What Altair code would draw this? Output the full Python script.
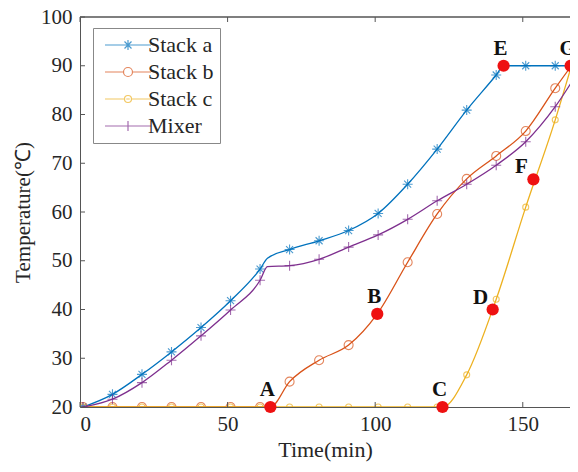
import altair as alt
import pandas as pd

series_names = ["Stack a", "Stack b", "Stack c", "Mixer"]
series_colors = ["#0072BD", "#D95319", "#EDB120", "#7E2F8E"]

a_time = [1, 11, 21, 31, 41, 51, 61, 63.5, 71, 81, 91, 101, 111, 121, 131, 141, 143.5, 151, 161, 166.5]
a_temp = [20, 22.6, 26.7, 31.3, 36.3, 41.8, 48.3, 50.5, 52.3, 54.1, 56.2, 59.7, 65.7, 72.9, 80.9, 88.1, 90, 90, 90, 90]

b_time = [1, 11, 21, 31, 41, 51, 61, 64.5, 71, 81, 91, 100.7, 111, 121, 131, 141, 151, 161, 166.5]
b_temp = [20, 20, 20, 20, 20, 20, 20, 20, 25.2, 29.6, 32.7, 39.1, 49.7, 59.6, 66.8, 71.5, 76.6, 85.4, 90]

c_time = [1, 11, 21, 31, 41, 51, 61, 71, 81, 91, 101, 111, 121, 122.8, 131, 141, 151, 161, 166.5]
c_temp = [20, 20, 20, 20, 20, 20, 20, 20, 20, 20, 20, 20, 20, 20, 26.6, 42.1, 61, 78.9, 90]

m_time = [1, 11, 21, 31, 41, 51, 61, 63.5, 71, 81, 91, 101, 111, 121, 131, 141, 151, 161, 171]
m_temp = [20, 21.6, 25, 29.6, 34.6, 39.9, 46, 48.8, 49, 50.3, 52.8, 55.3, 58.5, 62.3, 65.7, 69.6, 74.4, 81.6, 91]

event_labels = ["A", "B", "C", "D", "E", "F", "G"]
event_time = [64.5, 100.7, 122.8, 139.8, 143.5, 153.6, 166.2]
event_temp = [20, 39.1, 20, 40, 90, 66.7, 90]

x_ticks = [0, 50, 100, 150]
y_ticks = [20, 30, 40, 50, 60, 70, 80, 90, 100]

W, H = 490, 390
FONT = "Times New Roman, Liberation Serif, Times, serif"
TXT = "#262626"
AX = "#555555"

xscale = alt.Scale(domain=[0, 166], nice=False, zero=False)
yscale = alt.Scale(domain=[20, 100], nice=False, zero=False)
xaxis = alt.Axis(values=x_ticks, title="Time(min)", grid=False, ticks=False, domainColor=AX,
                 labelFont=FONT, labelFontSize=21, labelColor=TXT, labelPadding=6,
                 titleFont=FONT, titleFontSize=22, titleFontWeight="normal", titleColor=TXT, titlePadding=5)
yaxis = alt.Axis(values=y_ticks, title="Temperature(℃)", grid=False, ticks=False, domainColor=AX,
                 labelFont=FONT, labelFontSize=21, labelColor=TXT, labelPadding=8,
                 titleFont=FONT, titleFontSize=21, titleFontWeight="normal", titleColor=TXT, titlePadding=7)


def X(f):
    return alt.X(f + ":Q", scale=xscale, axis=xaxis)


def Y(f):
    return alt.Y(f + ":Q", scale=yscale, axis=yaxis)


marker_shapes = {
    "Stack a": ("M-1,0L1,0M0,-1L0,1M-0.7,-0.7L0.7,0.7M-0.7,0.7L0.7,-0.7", 100),
    "Stack b": ("circle", 81),
    "Stack c": ("circle", 36),
    "Mixer": ("M-1,0L1,0M0,-1L0,1", 100),
}

data = {
    "Stack a": (a_time, a_temp),
    "Stack b": (b_time, b_temp),
    "Stack c": (c_time, c_temp),
    "Mixer": (m_time, m_temp),
}

layers = []
for name, col in zip(series_names, series_colors):
    t, v = data[name]
    df = pd.DataFrame({"t": t, "v": v})
    layers.append(
        alt.Chart(df).mark_line(color=col, strokeWidth=1.3, interpolate="monotone", clip=True)
        .encode(x=X("t"), y=Y("v"))
    )
    mdf = df[[abs((x - 1) % 10) < 1e-9 for x in t]]
    shp, sz = marker_shapes[name]
    layers.append(
        alt.Chart(mdf).mark_point(shape=shp, size=sz, filled=False, color=col, strokeWidth=1.1, clip=True)
        .encode(x=X("t"), y=Y("v"))
    )

ev = pd.DataFrame({"label": event_labels, "t": event_time, "v": event_temp})
layers.append(alt.Chart(ev).mark_circle(size=150, color="#ee1111", opacity=1).encode(x=X("t"), y=Y("v")))
above = ev[ev["label"].isin(["A", "B", "C", "E", "G"])]
left = ev[ev["label"].isin(["D", "F"])]
layers.append(alt.Chart(above).mark_text(font=FONT, fontSize=21, fontWeight="bold", color="#111111",
                                         dx=-3, dy=-17).encode(x=X("t"), y=Y("v"), text="label:N"))
layers.append(alt.Chart(left).mark_text(font=FONT, fontSize=21, fontWeight="bold", color="#111111",
                                        dx=-12, dy=-12).encode(x=X("t"), y=Y("v"), text="label:N"))

# inward ticks and top border
xt = pd.DataFrame({"t": x_ticks})
yt = pd.DataFrame({"v": y_ticks})
layers.append(alt.Chart(xt).mark_rule(color=AX, strokeWidth=1).encode(x=X("t"), y=alt.value(H), y2=alt.value(H - 5)))
layers.append(alt.Chart(xt).mark_rule(color=AX, strokeWidth=1).encode(x=X("t"), y=alt.value(0), y2=alt.value(5)))
layers.append(alt.Chart(yt).mark_rule(color=AX, strokeWidth=1).encode(y=Y("v"), x=alt.value(0), x2=alt.value(5)))
layers.append(alt.Chart(yt.head(1)).mark_rule(color=AX, strokeWidth=1.5).encode(x=alt.value(0), x2=alt.value(W), y=alt.value(0)))

# legend
legend_paths = [
    "M-4.6,0L4.6,0M0,-1L0,1M-0.7,-0.7L0.7,0.7M-0.7,0.7L0.7,-0.7",
    "M-4.6,0L-0.9,0M0.9,0L4.6,0M-0.9,0A0.9,0.9 0 1,0 0.9,0A0.9,0.9 0 1,0 -0.9,0",
    "M-4.6,0L-0.7,0M0.7,0L4.6,0M-0.7,0A0.7,0.7 0 1,0 0.7,0A0.7,0.7 0 1,0 -0.7,0M-0.35,0L0.35,0",
    "M-4.6,0L4.6,0M0,-1L0,1",
]
leg = alt.Legend(title=None, orient="none", legendX=13, legendY=11, symbolSize=100,
                 symbolStrokeWidth=1.2, symbolOffset=18, labelOffset=9,
                 labelFont=FONT, labelFontSize=22, labelColor=TXT, rowPadding=5,
                 padding=6, strokeColor="#888888", fillColor="white")
ldf = pd.DataFrame({"series": series_names, "t": [-50] * 4, "v": [20] * 4})
layers.append(
    alt.Chart(ldf).mark_point(filled=False, clip=True).encode(
        x=X("t"), y=Y("v"),
        color=alt.Color("series:N", scale=alt.Scale(domain=series_names, range=series_colors), legend=leg),
        shape=alt.Shape("series:N", scale=alt.Scale(domain=series_names, range=legend_paths), legend=leg),
    )
)

chart = alt.layer(*layers).properties(
    width=W, height=H,
    padding={"left": 72, "top": 9, "right": 0, "bottom": 56},
    autosize=alt.AutoSizeParams(type="none"),
).configure_view(stroke=None)

chart.save("out.html", embed_options={"renderer": "svg", "actions": False})
